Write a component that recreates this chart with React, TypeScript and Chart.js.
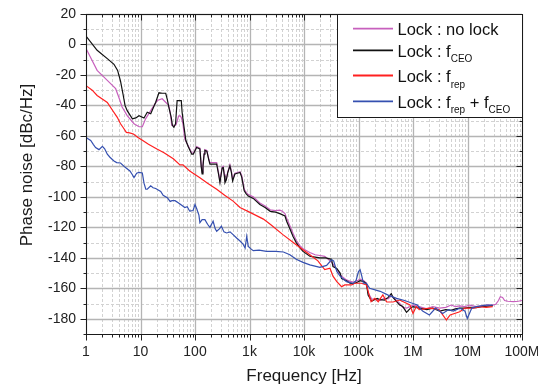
import React, { useEffect, useRef } from 'react';
import { Chart, registerables } from 'chart.js';

Chart.register(...registerables);

// ---------------- data ----------------
const xTickValues = [1, 10, 100, 1e3, 1e4, 1e5, 1e6, 1e7, 1e8];
const xTickLabels = ['1', '10', '100', '1k', '10k', '100k', '1M', '10M', '100M'];
const yMin = -190;
const yMax = 20;
const yStep = 10;
const yLabelStep = 20;

// [frequency Hz, phase noise dBc/Hz]
const noLock: [number, number][] = [
  [1, -2.6], [1.6, -17], [2.46, -23.6], [3.5, -29], [4.0, -34.6], [4.6, -41], [5.7, -46.7], [7.6, -52], [9.4, -54], [10.8, -54],
  [12.4, -48.8], [15.4, -43.4], [17.7, -40], [20.3, -36.8], [25, -35.6], [28.9, -37.9], [33, -40], [35, -44.5], [37.5, -53], [41, -53.5],
  [45, -52.6], [50, -47], [53, -46.7], [56, -47.8], [60, -52], [65, -62], [75, -66.5], [87, -71], [93, -71.5], [107, -67],
  [123, -68], [130, -79], [135, -84], [140, -79], [147, -71.5], [152, -69], [165, -69.5], [180, -75.5], [188, -77.5], [250, -77.5],
  [270, -84], [287, -89.5], [300, -85], [315, -80.5], [330, -80], [345, -85], [355, -89.5], [375, -88.5], [400, -83.5], [437, -79],
  [465, -83], [490, -88.5], [540, -84.5], [600, -84], [670, -83.5], [720, -86], [800, -95], [870, -97], [950, -98.5], [1170, -100],
  [1550, -104], [1930, -106], [2400, -108.5], [3000, -109], [3600, -108.7], [4000, -109.5], [4470, -111], [4800, -114], [5500, -119], [6300, -124],
  [7200, -128.5], [8400, -132], [9600, -134], [12800, -136.5], [16000, -138], [19600, -138.5], [24000, -139], [30000, -142], [34000, -144], [40000, -148],
  [49000, -152], [60000, -154.5], [70000, -155.5], [80000, -156], [95000, -155], [107000, -154], [125000, -155], [140000, -156.5], [150000, -163], [175000, -167],
  [220000, -167.5], [250000, -168], [300000, -166.5], [350000, -167], [400000, -165], [500000, -168], [570000, -170], [650000, -172.5], [760000, -173], [900000, -172],
  [1e6, -171], [1.3e6, -172], [1.8e6, -173.5], [2.3e6, -172], [3.1e6, -173], [4e6, -172.5], [5e6, -171], [6e6, -172], [7.2e6, -171.5], [9e6, -172],
  [1.1e7, -171], [1.45e7, -172], [1.8e7, -171.5], [2.3e7, -171], [2.9e7, -171], [3.3e7, -170.5], [3.7e7, -168], [4e7, -165.5], [4.4e7, -166], [4.8e7, -168],
  [5.5e7, -168.5], [7e7, -168.8], [8.5e7, -168.5], [1e8, -168],
];

const lockFceo: [number, number][] = [
  [1, 5.5], [1.6, -3.8], [2.46, -9.3], [3.26, -13], [3.8, -17], [4.3, -24], [4.8, -33], [5.2, -40], [5.7, -43.4], [7.1, -48.8],
  [8.2, -48.2], [9.4, -46.7], [11.6, -48.2], [13.3, -44.5], [15.4, -45.5], [19, -37.9], [21.8, -31.7], [25, -32], [29, -32], [31, -36],
  [33, -41], [36.6, -47.8], [38.5, -53], [41, -54.4], [44, -52], [47, -36.8], [56, -36.8], [58, -44.5], [63, -54.4], [68, -63],
  [75, -67], [87, -72], [93, -72], [107, -67.6], [123, -68.5], [130, -80], [135, -85], [140, -80], [147, -72], [152, -69.5],
  [165, -70], [180, -76], [188, -78.5], [250, -78.5], [270, -85], [287, -90.7], [300, -86], [315, -81], [330, -80.8], [345, -86],
  [355, -90.7], [375, -89], [400, -84], [437, -79.7], [465, -84], [490, -89.6], [540, -85], [600, -84.5], [670, -84], [720, -87],
  [800, -96], [870, -98], [950, -99.5], [1170, -101], [1550, -105], [1930, -107], [2400, -109.5], [3000, -110], [3600, -111], [4470, -112.5],
  [4800, -116], [5500, -121], [6300, -126], [7200, -130], [8400, -133.5], [9600, -135.8], [12800, -139], [16000, -139.5], [19600, -140], [25000, -140],
  [32000, -141], [34000, -145.7], [40000, -147], [46000, -150], [49000, -153.6], [60000, -155], [70000, -156.7], [80000, -157], [95000, -156], [107000, -155],
  [125000, -155.6], [140000, -157], [150000, -164.4], [175000, -168.5], [220000, -166.6], [250000, -167.5], [300000, -167.7], [350000, -166], [400000, -163.5], [430000, -166],
  [500000, -168.8], [570000, -171], [650000, -172], [760000, -175.8], [900000, -173], [1e6, -172], [1.3e6, -173], [1.8e6, -174], [2.3e6, -173], [3.1e6, -175],
  [4e6, -174], [5e6, -174.5], [6e6, -173.5], [7.2e6, -173], [9e6, -173], [1.1e7, -172.5], [1.45e7, -172.7], [1.8e7, -172], [2.3e7, -171.8], [2.9e7, -171.4],
];

const lockFrep: [number, number][] = [
  [1, -27], [1.3, -30], [1.6, -33.5], [2.46, -38], [3.04, -43], [3.75, -47.8], [4.3, -52], [4.8, -54.5], [5.5, -57.7], [6.3, -58],
  [7.4, -58.7], [9, -61], [11, -63], [14, -65.5], [20, -68.6], [27, -71], [40, -75], [53, -79], [60, -79], [80, -83],
  [123, -87.4], [170, -91], [250, -95], [350, -99], [500, -102.8], [670, -107], [1000, -110], [1800, -114.6], [2500, -118.5], [4100, -124.8],
  [7200, -131.4], [12800, -138], [18000, -142], [24000, -147.7], [30000, -146.8], [34000, -152], [40000, -155.6], [49000, -159], [56000, -157.8], [75000, -157.8],
  [85000, -156.7], [100000, -156.7], [113000, -156.7], [140000, -157.8], [160000, -165.5], [170000, -168.8], [200000, -166.6], [230000, -168.8], [280000, -164.4], [330000, -169],
  [430000, -169], [570000, -167.7], [880000, -171], [1e6, -176.5], [1.15e6, -172], [1.3e6, -174], [2e6, -173], [3e6, -174], [4.1e6, -180.8], [4.8e6, -177.5],
  [7.2e6, -175.4], [9e6, -173], [1.3e7, -173], [1.7e7, -172], [2.2e7, -172.5], [2.9e7, -172],
];

const lockBoth: [number, number][] = [
  [1, -61], [1.22, -63], [1.36, -65.5], [1.5, -67.6], [1.73, -69], [2.0, -66.8], [2.2, -68.5], [2.46, -72], [2.75, -74], [3.26, -76.4],
  [3.65, -77.5], [4.3, -77.8], [5.3, -80.8], [6.4, -83], [7.1, -85.5], [7.6, -87.4], [8.5, -84.5], [9.4, -84], [10.8, -84.3], [11.6, -91],
  [12.5, -95], [13.3, -95], [15.4, -92.8], [17, -94], [19, -94.5], [23.5, -96.5], [26, -99], [31, -100.5], [35, -103], [38, -102.5],
  [43, -102.5], [50, -104], [57, -105.5], [65, -107], [72, -106.5], [80, -109.4], [92, -109], [100, -105], [108, -108], [118, -112],
  [123, -117], [135, -115], [152, -115], [170, -118], [188, -120], [215, -116], [235, -121], [250, -122.6], [280, -121], [305, -119.3],
  [340, -123], [380, -123.7], [440, -123], [500, -124.8], [580, -127], [670, -129], [760, -131], [830, -133.6], [890, -125.9], [950, -132.5],
  [1050, -134], [1170, -135.3], [1500, -135], [2050, -135.8], [3000, -135.8], [4200, -136.2], [5500, -138], [7200, -141], [9600, -143], [12800, -144.6],
  [19600, -146.3], [26000, -145], [32000, -141.3], [35000, -142], [40000, -149], [46000, -152], [60000, -155.6], [80000, -156.7], [90000, -155], [100000, -149],
  [107000, -147.8], [115000, -152], [123000, -156.7], [140000, -156.7], [160000, -160], [250000, -162], [350000, -164.5], [500000, -166.6], [700000, -168], [1e6, -170],
  [1.2e6, -171], [1.5e6, -175], [2e6, -177.5], [2.6e6, -173], [3.5e6, -176.5], [4.5e6, -174], [5.5e6, -175], [7.2e6, -173], [9e6, -175], [9.9e6, -179.8],
  [1.1e7, -176], [1.2e7, -173], [1.45e7, -172], [2.2e7, -171], [2.9e7, -171],
];

// legend text pieces: [text, isSubscript]
const legendNoLock: [string, boolean][] = [['Lock : no lock', false]];
const legendFceo: [string, boolean][] = [['Lock : f', false], ['CEO', true]];
const legendFrep: [string, boolean][] = [['Lock : f', false], ['rep', true]];
const legendBoth: [string, boolean][] = [['Lock : f', false], ['rep', true], [' + f', false], ['CEO', true]];

const xTitle = 'Frequency [Hz]';
const yTitle = 'Phase noise [dBc/Hz]';

// ---------------- styles ----------------
const FONT = '"Liberation Sans", Arial, Helvetica, sans-serif';
const COLORS = {
  noLock: '#c760bd',
  fceo: '#111111',
  frep: '#ff2020',
  both: '#3550b0',
};

const legendItems = [
  { parts: legendNoLock, color: COLORS.noLock, lineY: 28.7 },
  { parts: legendFceo, color: COLORS.fceo, lineY: 50.3 },
  { parts: legendFrep, color: COLORS.frep, lineY: 75.5 },
  { parts: legendBoth, color: COLORS.both, lineY: 101.3 },
];

function xLabel(v: number): string {
  const l = Math.log10(v);
  const r = Math.round(l);
  if (Math.abs(l - r) < 1e-6) {
    const i = xTickValues.indexOf(Math.pow(10, r));
    return i >= 0 ? xTickLabels[i] : '';
  }
  return '';
}

const framePlugin = {
  id: 'framePlugin',
  beforeDatasetsDraw(chart: any) {
    const { ctx, chartArea } = chart;
    const { left, right, top, bottom } = chartArea;
    const xs = chart.scales.x;
    const ys = chart.scales.y;
    ctx.save();
    ctx.lineWidth = 1;
    // minor grid
    ctx.strokeStyle = '#d2d2d2';
    ctx.setLineDash([3, 2]);
    ctx.beginPath();
    for (let e = 0; e < 8; e++) {
      for (let m = 2; m <= 9; m++) {
        const px = Math.round(xs.getPixelForValue(m * Math.pow(10, e))) + 0.5;
        ctx.moveTo(px, top);
        ctx.lineTo(px, bottom);
      }
    }
    for (let v = yMin; v <= yMax; v += yStep) {
      if (v % yLabelStep === 0) continue;
      const py = Math.round(ys.getPixelForValue(v)) + 0.5;
      ctx.moveTo(left, py);
      ctx.lineTo(right, py);
    }
    ctx.stroke();
    // major grid
    ctx.setLineDash([]);
    ctx.strokeStyle = '#b4b4b4';
    ctx.lineWidth = 1.3;
    ctx.beginPath();
    for (const v of xTickValues) {
      const px = Math.round(xs.getPixelForValue(v)) + 0.5;
      ctx.moveTo(px, top);
      ctx.lineTo(px, bottom);
    }
    for (let v = yMin; v <= yMax; v += yStep) {
      if (v % yLabelStep !== 0) continue;
      const py = Math.round(ys.getPixelForValue(v)) + 0.5;
      ctx.moveTo(left, py);
      ctx.lineTo(right, py);
    }
    ctx.stroke();
    ctx.restore();
  },
  afterDatasetsDraw(chart: any) {
    const { ctx, chartArea } = chart;
    const { left, right, top, bottom } = chartArea;
    const xs = chart.scales.x;
    const ys = chart.scales.y;
    ctx.save();
    // ticks
    ctx.strokeStyle = '#222';
    ctx.lineWidth = 1;
    ctx.beginPath();
    const L = Math.round(left) + 0.5;
    const R = Math.round(right) + 0.5;
    const T = Math.round(top) + 0.5;
    const B = Math.round(bottom) + 0.5;
    for (let e = 0; e <= 8; e++) {
      for (let m = 1; m <= 9; m++) {
        if (e === 8 && m > 1) break;
        const len = m === 1 ? 6 : 3;
        const px = Math.round(xs.getPixelForValue(m * Math.pow(10, e))) + 0.5;
        ctx.moveTo(px, B);
        ctx.lineTo(px, B + len);
        ctx.moveTo(px, T);
        ctx.lineTo(px, T + len);
      }
    }
    for (let v = yMin; v <= yMax; v += yStep) {
      const len = v % yLabelStep === 0 ? 6 : 3;
      const py = Math.round(ys.getPixelForValue(v)) + 0.5;
      ctx.moveTo(L, py);
      ctx.lineTo(L - len, py);
      ctx.moveTo(R, py);
      ctx.lineTo(R - len, py);
    }
    ctx.stroke();
    // frame
    ctx.strokeStyle = '#1a1a1a';
    ctx.strokeRect(L, T, R - L, B - T);

    // legend
    const lx0 = 337.5;
    const ly0 = T;
    const lx1 = R;
    const ly1 = 117.5;
    ctx.fillStyle = '#ffffff';
    ctx.fillRect(lx0, ly0, lx1 - lx0, ly1 - ly0);
    ctx.strokeStyle = '#1a1a1a';
    ctx.lineWidth = 1;
    ctx.strokeRect(lx0, ly0, lx1 - lx0, ly1 - ly0);
    for (const item of legendItems) {
      ctx.strokeStyle = item.color;
      ctx.lineWidth = 1.8;
      ctx.beginPath();
      ctx.moveTo(353, item.lineY);
      ctx.lineTo(393, item.lineY);
      ctx.stroke();
      let x = 397.5;
      const base = item.lineY + 6.2;
      ctx.fillStyle = '#111';
      ctx.textAlign = 'left';
      ctx.textBaseline = 'alphabetic';
      for (const [t, sub] of item.parts) {
        ctx.font = sub ? `10px ${FONT}` : `16.5px ${FONT}`;
        ctx.fillText(t, x, sub ? base + 5.8 : base);
        x += ctx.measureText(t).width;
      }
    }

    // axis titles
    ctx.fillStyle = '#1a1a1a';
    ctx.font = `17px ${FONT}`;
    ctx.textAlign = 'center';
    ctx.textBaseline = 'alphabetic';
    ctx.fillText(xTitle, (left + right) / 2, 381);
    ctx.save();
    ctx.translate(31.5, 165);
    ctx.rotate(-Math.PI / 2);
    ctx.fillText(yTitle, 0, 0);
    ctx.restore();
    ctx.restore();
  },
};

function toPoints(arr: [number, number][]) {
  return arr.map(([f, v]) => ({ x: f, y: v }));
}

export default function App() {
  const canvasRef = useRef<HTMLCanvasElement | null>(null);

  useEffect(() => {
    const canvas = canvasRef.current;
    if (!canvas) return;
    const common = { pointRadius: 0, borderWidth: 1.2, tension: 0, fill: false };
    const chart = new Chart(canvas, {
      type: 'line',
      data: {
        datasets: [
          { label: 'Lock : frep + fCEO', data: toPoints(lockBoth), borderColor: COLORS.both, order: 0, ...common },
          { label: 'Lock : frep', data: toPoints(lockFrep), borderColor: COLORS.frep, order: 1, ...common },
          { label: 'Lock : fCEO', data: toPoints(lockFceo), borderColor: COLORS.fceo, order: 2, ...common },
          { label: 'Lock : no lock', data: toPoints(noLock), borderColor: COLORS.noLock, order: 3, ...common },
        ],
      },
      options: {
        responsive: false,
        animation: false,
        devicePixelRatio: 1,
        layout: { padding: { top: 14, right: 16, left: 0, bottom: 0 } },
        plugins: { legend: { display: false }, tooltip: { enabled: false }, title: { display: false } },
        scales: {
          x: {
            type: 'logarithmic',
            position: 'bottom',
            min: 1,
            max: 1e8,
            grid: { display: false, drawTicks: false, tickLength: 0 },
            border: { display: false },
            ticks: {
              autoSkip: false,
              maxRotation: 0,
              minRotation: 0,
              padding: 9.5,
              color: '#222',
              font: { family: FONT, size: 14 },
              callback: (v: any) => xLabel(Number(v)),
            },
            afterFit: (s: any) => {
              s.height = 53;
              s.paddingLeft = 0;
              s.paddingRight = 0;
            },
          },
          y: {
            type: 'linear',
            min: yMin,
            max: yMax,
            grid: { display: false, drawTicks: false, tickLength: 0 },
            border: { display: false },
            ticks: {
              stepSize: yStep,
              autoSkip: false,
              padding: 10,
              color: '#222',
              font: { family: FONT, size: 14 },
              callback: (v: any) => (Number(v) % yLabelStep === 0 ? String(v) : ''),
            },
            afterFit: (s: any) => {
              s.width = 86;
              s.paddingTop = 0;
              s.paddingBottom = 0;
            },
          },
        },
      } as any,
      plugins: [framePlugin],
    });
    return () => chart.destroy();
  }, []);

  return (
    <div style={{ position: 'fixed', left: 0, top: 0, width: 538, height: 387, background: '#fff' }}>
      <canvas ref={canvasRef} width={538} height={387} style={{ display: 'block', width: 538, height: 387 }} />
    </div>
  );
}
